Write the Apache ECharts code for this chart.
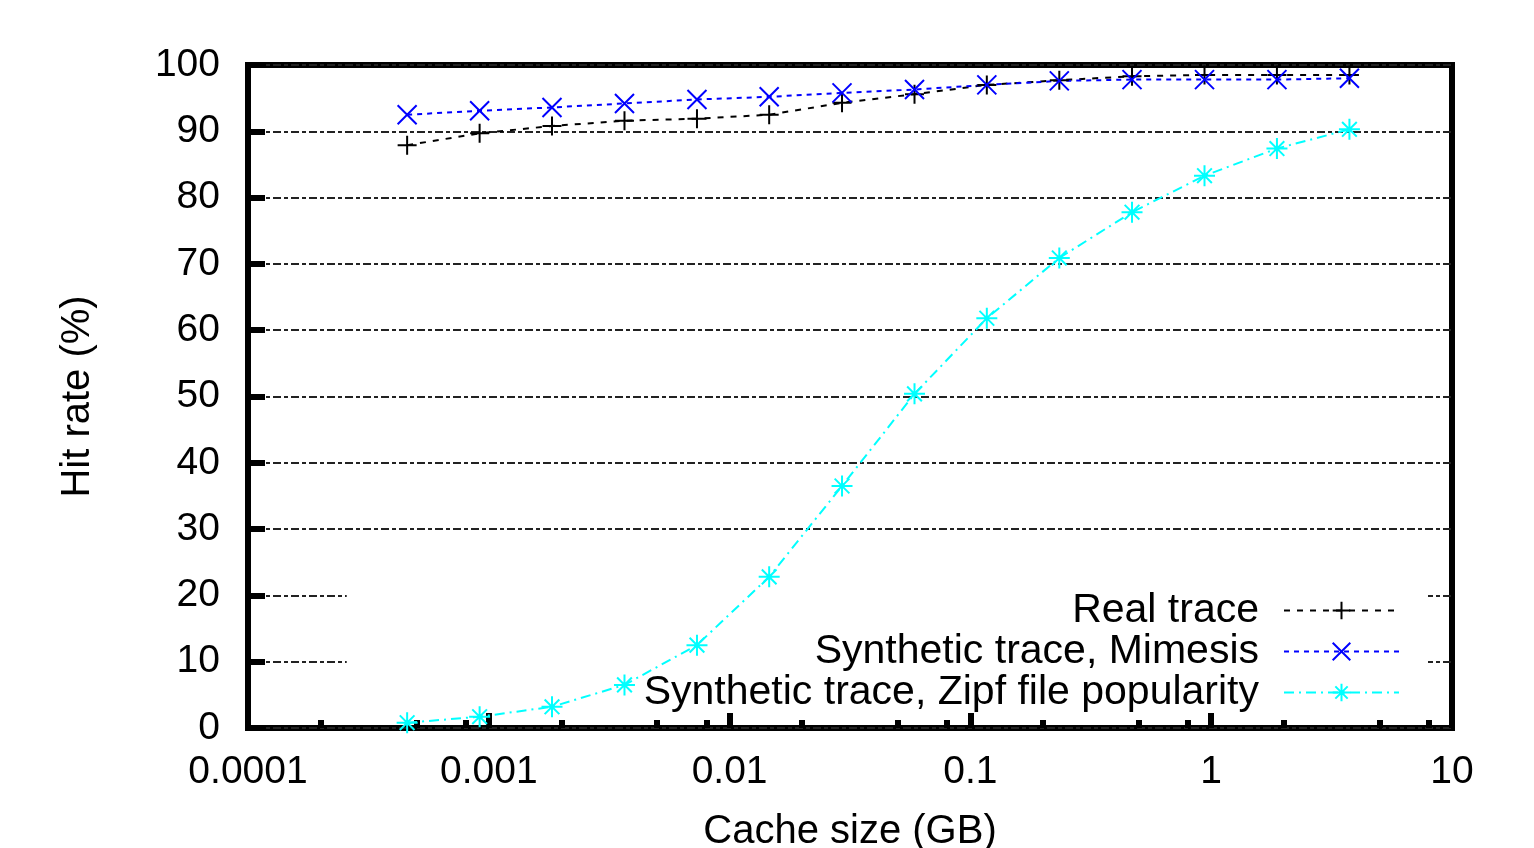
<!DOCTYPE html>
<html>
<head>
<meta charset="utf-8">
<script src="https://cdn.jsdelivr.net/npm/echarts@6/dist/echarts.min.js"></script>
<style>
  html, body { margin: 0; padding: 0; background: #fff; }
  #app { width: 1534px; height: 848px; }
</style>
</head>
<body>
<div id="app"></div>
<script>
// cache size in GB, doubling each step
const cacheSizes = [0.000458, 0.000916, 0.00183, 0.00366, 0.00732, 0.0146, 0.0293,
  0.0586, 0.117, 0.234, 0.469, 0.938, 1.875, 3.75]
const realTrace = [87.9, 89.7, 90.8, 91.6, 91.9, 92.5, 94.3, 95.6, 97.0, 97.7, 98.3, 98.5, 98.5, 98.5]
const mimesis = [92.5, 93.1, 93.6, 94.2, 94.8, 95.2, 95.8, 96.3, 97.0, 97.6, 97.8, 97.8, 97.8, 98.0]
const zipf = [0.8, 1.7, 3.2, 6.5, 12.5, 22.8, 36.5, 50.4, 61.8, 70.9, 77.8, 83.3, 87.4, 90.3]
const minorTicks = [0.0002, 0.0005, 0.0008, 0.002, 0.005, 0.008, 0.02, 0.05, 0.08,
  0.2, 0.5, 0.8, 2, 5, 8]

const FONT = 'Liberation Sans'
const plus = 'path://M0,5L10,5M5,0L5,10'
const cross = 'path://M0,0L10,10M10,0L0,10'
const star = 'path://M0,5L10,5M5,0L5,10M1.5,1.5L8.5,8.5M8.5,1.5L1.5,8.5'

function pts(ys) {
  return cacheSizes.map((x, i) => [x, ys[i]])
}

function line(name, ys, color, dash, symbol, size) {
  return {
    name: name,
    type: 'line',
    data: pts(ys),
    symbol: symbol,
    symbolSize: size,
    lineStyle: { color: color, width: 2, type: dash },
    itemStyle: { color: color, borderColor: color, borderWidth: 2 },
    emphasis: { disabled: true },
    z: 2
  }
}

const chart = echarts.init(document.getElementById('app'))

chart.setOption({
  animation: false,
  grid: {
    left: 248, right: 82, top: 65, bottom: 120,
    outerBoundsMode: 'none',
    containLabel: false,
    show: true, borderColor: '#000', borderWidth: 6, backgroundColor: '#fff'
  },
  xAxis: [{
    type: 'log',
    logBase: 10,
    min: 0.0001,
    max: 10,
    position: 'bottom',
    name: 'Cache size (GB)',
    nameLocation: 'middle',
    nameGap: 84,
    nameTextStyle: { fontFamily: FONT, fontSize: 40, color: '#000' },
    axisLine: { show: false },
    axisTick: { inside: true, length: 16, lineStyle: { color: '#000', width: 6 } },
    axisLabel: {
      fontFamily: FONT, fontSize: 39, color: '#000', margin: 25,
      formatter: v => String(v)
    },
    splitLine: { show: false }
  }, {
    type: 'log',
    logBase: 10,
    min: 0.0001,
    max: 10,
    position: 'bottom',
    axisLine: { show: false },
    axisLabel: { show: false },
    splitLine: { show: false },
    axisTick: {
      inside: true, length: 8, customValues: minorTicks,
      lineStyle: { color: '#000', width: 6 }
    }
  }],
  yAxis: {
    type: 'value',
    min: 0,
    max: 100,
    interval: 10,
    name: 'Hit rate (%)',
    nameLocation: 'middle',
    nameGap: 150,
    nameTextStyle: { fontFamily: FONT, fontSize: 40, color: '#000' },
    axisLine: { show: false },
    axisTick: { inside: true, length: 17, lineStyle: { color: '#000', width: 6 } },
    axisLabel: { fontFamily: FONT, fontSize: 39, color: '#000', margin: 28, padding: [6, 0, 0, 0] },
    splitLine: { show: true, lineStyle: { color: '#222', width: 2, type: [4, 3, 8, 3] } }
  },
  legend: {
    orient: 'vertical',
    right: 106,
    top: 577,
    align: 'right',
    itemWidth: 115,
    itemHeight: 22,
    itemGap: 0,
    padding: [13, 28, 0, 297],
    backgroundColor: '#fff',
    z: 1,
    selectedMode: false,
    textStyle: { fontFamily: FONT, fontSize: 41, lineHeight: 41, color: '#000', padding: [0, 20, 0, 0] }
  },
  series: [
    line('Real trace', realTrace, '#000', [6, 7], plus, 19),
    line('Synthetic trace, Mimesis', mimesis, '#0000ff', [5, 5], cross, 19),
    line('Synthetic trace, Zipf file popularity', zipf, '#00ffff', [10, 5, 2, 5], star, 21)
  ]
})
</script>
</body>
</html>
